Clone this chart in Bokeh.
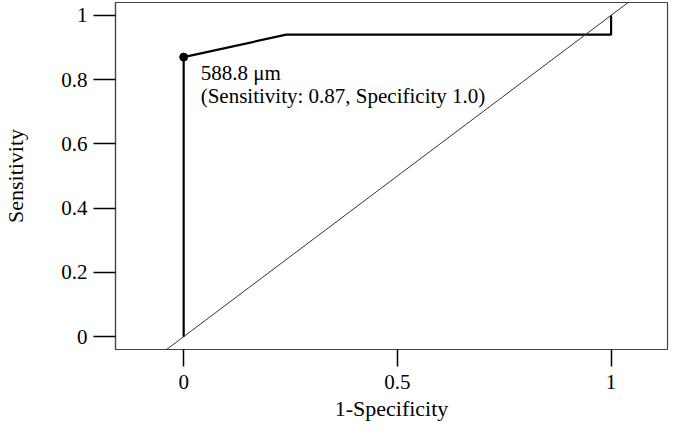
from bokeh.plotting import figure
from bokeh.models import Range1d, FixedTicker, Slope, Label
from bokeh.embed import file_html
from bokeh.resources import INLINE

# ROC curve data
fpr = [0.0, 0.0, 0.24, 1.0, 1.0]          # 1 - specificity
tpr = [0.0, 0.87, 0.94, 0.94, 1.0]        # sensitivity
cut_fpr = [0.0]
cut_tpr = [0.87]
cut_text = ["588.8 \u03bcm", "(Sensitivity: 0.87, Specificity 1.0)"]

x_ticks = [0, 0.5, 1]
x_tick_labels = ["0", "0.5", "1"]
y_ticks = [0, 0.2, 0.4, 0.6, 0.8, 1]
y_tick_labels = ["0", "0.2", "0.4", "0.6", "0.8", "1"]

FONT = "Liberation Serif"

p = figure(width=669, height=423, output_backend="svg", toolbar_location=None,
           x_range=Range1d(-0.1595, 1.132), y_range=Range1d(-0.04, 1.04),
           min_border_left=100, min_border_right=2, min_border_top=2,
           min_border_bottom=0)
p.background_fill_color = "white"
p.border_fill_color = "white"
p.outline_line_color = "#444444"
p.outline_line_width = 1.2
p.xgrid.visible = False
p.ygrid.visible = False

p.xaxis.ticker = FixedTicker(ticks=x_ticks)
p.xaxis.major_label_overrides = {t: l for t, l in zip(x_ticks, x_tick_labels)}
p.yaxis.ticker = FixedTicker(ticks=y_ticks)
p.yaxis.major_label_overrides = {t: l for t, l in zip(y_ticks, y_tick_labels)}

p.xaxis.axis_label = "1-Specificity"
p.yaxis.axis_label = "Sensitivity"
for ax in (p.xaxis, p.yaxis):
    ax.axis_label_text_font = FONT
    ax.axis_label_text_font_style = "normal"
    ax.axis_label_text_font_size = "22px"
    ax.axis_label_text_color = "black"
    ax.major_label_text_font = FONT
    ax.major_label_text_font_size = "21px"
    ax.major_label_text_color = "black"
    ax.minor_tick_line_color = None
    ax.major_tick_in = 0
    ax.major_tick_line_color = "black"
    ax.major_tick_line_width = 1.5
    ax.axis_line_color = "#444444"
    ax.axis_line_width = 1.2

p.xaxis.major_tick_out = 17
p.xaxis.major_label_standoff = 8
p.xaxis.axis_label_standoff = 4
p.yaxis.major_tick_out = 22
p.yaxis.major_label_standoff = 6
p.yaxis.major_label_orientation = "horizontal"
p.yaxis.axis_label_standoff = 30

# reference diagonal
p.add_layout(Slope(gradient=1, y_intercept=0, line_color="#333333", line_width=1))

# ROC curve
p.line(fpr, tpr, line_color="black", line_width=2.2)
p.scatter(cut_fpr, cut_tpr, size=8, color="black")

# annotation
p.add_layout(Label(x=cut_fpr[0], y=cut_tpr[0], x_offset=17, y_offset=-16,
                   text=cut_text[0], text_font=FONT, text_font_size="21px",
                   text_baseline="middle", text_color="black"))
p.add_layout(Label(x=cut_fpr[0], y=cut_tpr[0], x_offset=17, y_offset=-39,
                   text=cut_text[1], text_font=FONT, text_font_size="21px",
                   text_baseline="middle", text_color="black"))

open("out.html", "w").write(file_html(p, INLINE))
